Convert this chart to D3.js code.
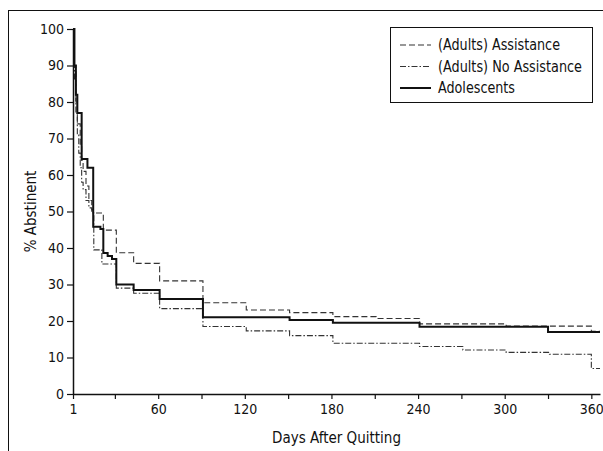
<!DOCTYPE html>
<html lang="en">
<head>
<meta charset="UTF-8">
<title>% Abstinent by Days After Quitting</title>
<script src="https://d3js.org/d3.v7.min.js"></script>
<style>
  body { margin: 0; background: #fff; }
  svg text { font-family: "Liberation Sans Narrow", "DejaVu Sans Condensed", Arial, sans-serif; fill: #111; }
</style>
</head>
<body>
<div id="chart"></div>
<script>
// step data: [day, % abstinent] - value holds until the next day
const adultsAssist = [
  [1, 100], [2, 90], [3, 80], [4, 74], [6, 68], [7, 64], [8, 61], [10, 57], [12, 53], [14, 50.5],
  [15, 49.6], [22, 44.9], [31, 38.7], [43, 35.8], [61, 31], [91, 25], [121, 23], [151, 22.3],
  [181, 21.2], [211, 20.7], [241, 19.2], [301, 18.6], [360, 17.2], [366, 17.2]
];
const adultsNoAssist = [
  [1, 100], [2, 86], [3, 77], [4, 71], [5, 66], [6, 62], [7, 58], [8, 56], [10, 53], [12, 51],
  [14, 49.6], [15.4, 39.5], [21, 35.6], [31, 29], [43, 27.6], [61, 23.4], [91, 18.5], [121, 17.3],
  [151, 16], [181, 13.9], [241, 13], [271, 12.05], [301, 11.4], [331, 10.9], [360, 7], [366, 7]
];
const adolescents = [
  [1, 100], [2, 90], [3, 82], [4, 77], [7, 64.4], [11, 62], [15, 45.8], [20, 45.2], [22, 38.6],
  [25, 37.8], [28, 37], [31, 30], [43, 28.5], [61, 26], [91, 21], [151, 20.3], [181, 19.5],
  [241, 18.4], [330, 17], [366, 17]
];

const seriesNames = ["(Adults) Assistance", "(Adults) No Assistance", "Adolescents"];
const yTicks = [0, 10, 20, 30, 40, 50, 60, 70, 80, 90, 100];
const xTicks = [1, 30, 60, 90, 120, 150, 180, 210, 240, 270, 300, 330, 360];
const xLabels = [1, 60, 120, 180, 240, 300, 360];

const width = 603, height = 451;
const margin = { top: 29, right: 3, bottom: 57, left: 73 };

const svg = d3.select("#chart").append("svg")
  .attr("width", width)
  .attr("height", height);

// outer frame (runs off the right and bottom edges)
svg.append("rect")
  .attr("x", 8.5).attr("y", 10.5)
  .attr("width", 700).attr("height", 600)
  .attr("fill", "none").attr("stroke", "#111").attr("stroke-width", 1);

const x = d3.scaleLinear().domain([1, 366]).range([margin.left, width - margin.right]);
const y = d3.scaleLinear().domain([0, 100]).range([height - margin.bottom, margin.top]);

const styles = [
  { data: adultsAssist, dash: "6,3", w: 1.1, color: "#333", len: 122 },
  { data: adultsNoAssist, dash: "6,2,1.5,2", w: 1.1, color: "#333", len: 144 },
  { data: adolescents, dash: null, w: 2, color: "#111", len: 77 }
];

const line = d3.line()
  .x(d => x(d[0]))
  .y(d => y(d[1]))
  .curve(d3.curveStepAfter);

styles.forEach(s => {
  svg.append("path")
    .datum(s.data)
    .attr("fill", "none")
    .attr("stroke", s.color)
    .attr("stroke-width", s.w)
    .attr("stroke-dasharray", s.dash)
    .attr("d", line);
});

// axes
const yAxis = svg.append("g")
  .attr("transform", `translate(${margin.left},0)`)
  .call(d3.axisLeft(y).tickValues(yTicks).tickSize(6).tickSizeOuter(0).tickPadding(3));

const xAxis = svg.append("g")
  .attr("transform", `translate(0,${height - margin.bottom})`)
  .call(d3.axisBottom(x).tickValues(xTicks).tickSize(5).tickSizeOuter(0).tickPadding(5)
    .tickFormat(d => xLabels.includes(d) ? d : ""));

[yAxis, xAxis].forEach(g => {
  g.select(".domain").attr("stroke", "#111").attr("stroke-width", 1.5);
  g.selectAll(".tick line").attr("stroke", "#111").attr("stroke-width", 1.2);
  g.selectAll(".tick text").attr("font-size", 14).attr("fill", "#111")
    .style("font-family", '"Liberation Sans Narrow", "DejaVu Sans Condensed", Arial, sans-serif');
});

// axis titles
svg.append("text")
  .attr("x", (x(1) + x(366)) / 2)
  .attr("y", 443)
  .attr("text-anchor", "middle")
  .attr("font-size", 15)
  .text("Days After Quitting");

svg.append("text")
  .attr("transform", `translate(36,${y(50)}) rotate(-90)`)
  .attr("text-anchor", "middle")
  .attr("font-size", 15)
  .text("% Abstinent");

// legend
const legend = svg.append("g").attr("transform", "translate(390,27)");
legend.append("rect")
  .attr("x", 0.5).attr("y", 0.5)
  .attr("width", 202).attr("height", 75)
  .attr("fill", "#fff").attr("stroke", "#111").attr("stroke-width", 1);

seriesNames.forEach((name, i) => {
  const s = styles[i];
  const cy = 18 + i * 21.5;
  legend.append("line")
    .attr("x1", 10).attr("x2", 41)
    .attr("y1", cy).attr("y2", cy)
    .attr("stroke", s.color)
    .attr("stroke-width", s.w)
    .attr("stroke-dasharray", s.dash);
  legend.append("text")
    .attr("x", 48).attr("y", cy + 5)
    .attr("font-size", 15)
    .attr("textLength", s.len)
    .attr("lengthAdjust", "spacingAndGlyphs")
    .text(name);
});
</script>
</body>
</html>
